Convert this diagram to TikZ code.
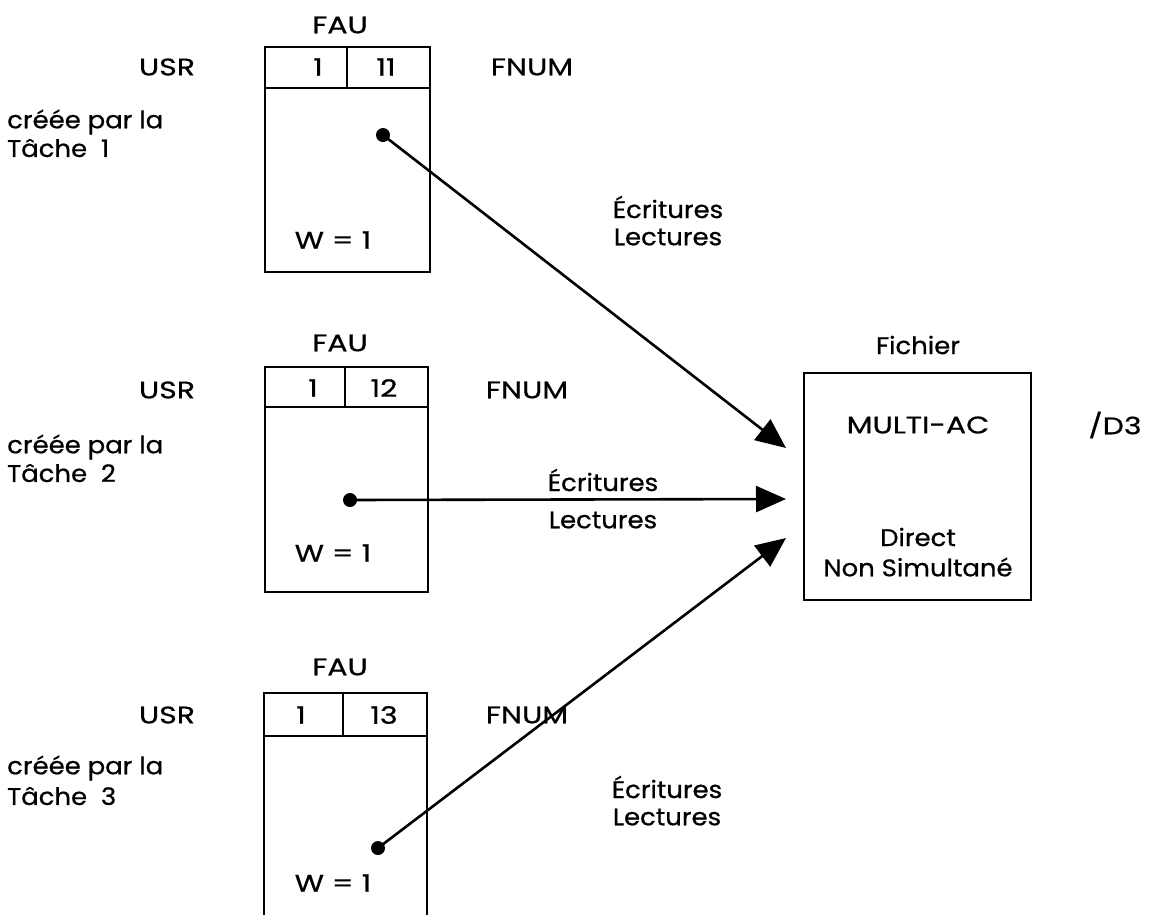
\documentclass[tikz,border=0pt]{standalone}
\usepackage{fontspec}
\setmainfont{Poppins}[FakeBold=0.7]
\usetikzlibrary{arrows.meta}
\begin{document}
\begin{tikzpicture}[x=1pt,y=-1pt,
  lbl/.style={font=\fontsize{24}{27}\selectfont\addfontfeature{FakeStretch=1.08}, inner sep=0pt, anchor=center},
  capslbl/.style={lbl, font=\fontsize{24}{27}\selectfont\addfontfeature{FakeStretch=1.25}},
  boxline/.style={line width=2pt},
  conn/.style={line width=2.6pt, -{Triangle[length=30pt,width=26pt]}},
  dotmark/.style={circle, fill=black, inner sep=0pt, minimum size=14pt}]
\useasboundingbox (0,0) rectangle (1149,914);

% ---------- FAU 1 ----------
\node[capslbl] (fau1) at (340,25) {FAU};
\node[capslbl] (usr1) at (167,67) {USR};
\node[capslbl] (fnum1) at (532,67) {FNUM};
\node[lbl, anchor=west] (cr1) at (7,122) {créée par la};
\node[lbl, anchor=west] (ta1) at (7,148) {Tâche\ \ 1};
\draw[boxline] (265,47) rectangle (430,272);
\draw[boxline] (265,88) -- (430,88);
\draw[boxline] (347,47) -- (347,88);
\node[capslbl] (u1) at (318,67) {1};
\node[capslbl] (n1) at (386,67) {11};
\node[capslbl] (w1) at (333,240) {W = 1};
\node[dotmark] (d1) at (383,135) {};

% ---------- FAU 2 ----------
\node[capslbl] (fau2) at (340,343) {FAU};
\node[capslbl] (usr2) at (167,390) {USR};
\node[capslbl] (fnum2) at (527,390) {FNUM};
\node[lbl, anchor=west] (cr2) at (7,447) {créée par la};
\node[lbl, anchor=west] (ta2) at (7,473) {Tâche\ \ 2};
\draw[boxline] (265,367) rectangle (428,592);
\draw[boxline] (265,407) -- (428,407);
\draw[boxline] (345,367) -- (345,407);
\node[capslbl] (u2) at (313,388) {1};
\node[capslbl] (n2) at (384,388) {12};
\node[capslbl] (w2) at (333,553) {W = 1};
\node[dotmark] (d2) at (350,500) {};

% ---------- FAU 3 ----------
\node[capslbl] (fau3) at (340,667) {FAU};
\node[capslbl] (usr3) at (167,715) {USR};
\node[capslbl] (fnum3) at (527,715) {FNUM};
\node[lbl, anchor=west] (cr3) at (7,768) {créée par la};
\node[lbl, anchor=west] (ta3) at (7,796) {Tâche\ \ 3};
\draw[boxline] (264,916) -- (264,693) -- (427,693) -- (427,916);
\draw[boxline] (264,736) -- (427,736);
\draw[boxline] (343,693) -- (343,736);
\node[capslbl] (u3) at (301,715) {1};
\node[capslbl] (n3) at (384,715) {13};
\node[capslbl] (w3) at (333,883) {W = 1};
\node[dotmark] (d3) at (378,848) {};

% ---------- Fichier ----------
\node[lbl] (fich) at (918,345) {Fichier};
\node[draw, boxline, minimum width=227pt, minimum height=227pt, anchor=north west, inner sep=0pt] (file) at (803,372) {};
\node[capslbl] (multi) at (918,425) {MULTI-AC};
\node[lbl] (direct) at (918,537) {Direct};
\node[lbl] (nonsim) at (918,567) {Non Simultané};
\node[capslbl] (d3lbl) at (1115,425) {/D3};

% ---------- arrow labels ----------
\node[lbl] (e1) at (668,207) {Écritures};
\node[lbl] (l1) at (668,237) {Lectures};
\node[lbl] (e2) at (603,480) {Écritures};
\node[lbl] (l2) at (603,520) {Lectures};
\node[lbl] (e3) at (667,787) {Écritures};
\node[lbl] (l3) at (667,817) {Lectures};

% ---------- connectors ----------
\coordinate (t1) at (786,448);
\coordinate (t2) at (786,499);
\coordinate (t3) at (786,538);
\draw[conn] (d1.center) -- (t1);
\draw[conn] (d2.center) -- (t2);
\draw[conn] (d3.center) -- (t3);
\end{tikzpicture}
\end{document}
